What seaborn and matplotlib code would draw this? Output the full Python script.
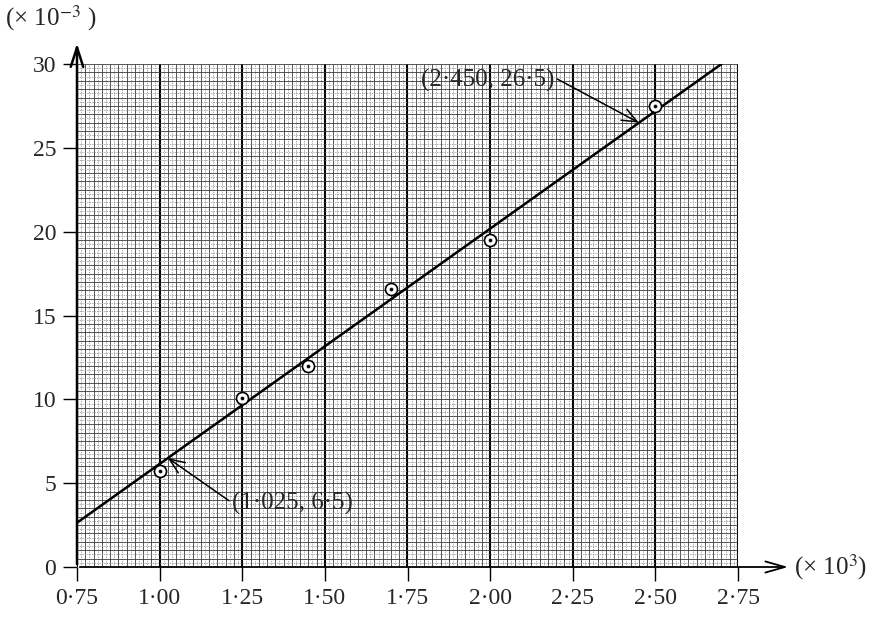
import numpy as np
import seaborn as sns
import matplotlib.pyplot as plt

# measured points (x in 10^3, y in 10^-3)
x_vals = [1.00, 1.25, 1.45, 1.70, 2.00, 2.50]
y_vals = [5.7, 10.1, 12.0, 16.6, 19.5, 27.5]

# best-fit line end points
fit_x = [0.75, 2.70]
fit_y = [2.64, 30.0]

# the two points
pt_hi = (2.450, 26.5)
pt_lo = (1.025, 6.5)

x_ticks = [0.75, 1.00, 1.25, 1.50, 1.75, 2.00, 2.25, 2.50, 2.75]
x_labels = ['0·75', '1·00', '1·25', '1·50', '1·75', '2·00', '2·25', '2·50', '2·75']
y_ticks = [0, 5, 10, 15, 20, 25, 30]
y_labels = ['0', '5', '10', '15', '20', '25', '30']

sns.set_style('white')
plt.rcParams['font.family'] = ['Liberation Serif', 'DejaVu Serif']
plt.rcParams['mathtext.fontset'] = 'stix'

fig = plt.figure(figsize=(8.71, 6.17), dpi=100)
ax = fig.add_axes([77 / 871, 50 / 617, 661 / 871, 503 / 617])
ax.set_xlim(0.75, 2.75)
ax.set_ylim(0, 30)

# graph paper grid
x0, x1 = 0.75, 2.765
y0, y1 = 0.0, 30.0
for i, gx in enumerate(np.arange(0.75, 2.7651, 0.0125)):
    if i % 20 == 0:
        ax.vlines(gx, y0, y1, color='black', lw=1.5, zorder=1)
    elif i % 2 == 0:
        ax.vlines(gx, y0, y1, color='#3a3a3a', lw=0.6, zorder=1)
    else:
        ax.vlines(gx, y0, y1, color='#8a8a8a', lw=0.5, ls=(0, (2, 1.5)), zorder=1)
for j, gy in enumerate(np.arange(0.25, 30.01, 0.25)):
    if j % 2 == 1:
        ax.hlines(gy, x0, x1, color='#3a3a3a', lw=0.6, zorder=1)
    else:
        ax.hlines(gy, x0, x1, color='#8a8a8a', lw=0.5, ls=(0, (2, 1.5)), zorder=1)

# fitted line and data points
sns.lineplot(x=fit_x, y=fit_y, ax=ax, color='black', lw=1.8, zorder=3)
sns.scatterplot(x=x_vals, y=y_vals, ax=ax, s=75, marker='o', facecolor='white',
                edgecolor='black', linewidth=1.2, zorder=4)
sns.scatterplot(x=x_vals, y=y_vals, ax=ax, s=8, color='black', zorder=5)

# axes with arrows
for s in ax.spines.values():
    s.set_visible(False)
ax.annotate('', xy=(0.75, 31.4), xytext=(0.75, 0), annotation_clip=False,
            arrowprops=dict(arrowstyle='->,head_length=1.4,head_width=0.45', color='black', lw=1.8))
ax.annotate('', xy=(2.91, 0), xytext=(0.75, 0), annotation_clip=False,
            arrowprops=dict(arrowstyle='->,head_length=1.4,head_width=0.4', color='black', lw=1.3))

ax.set_xticks(x_ticks)
ax.set_xticklabels(x_labels)
ax.set_yticks(y_ticks)
ax.set_yticklabels(y_labels)
ax.tick_params(axis='both', direction='out', length=10, width=1.0, color='black',
               labelsize=17, pad=5, bottom=True, left=True)

fig.text(5 / 871, 1 - 18 / 617, r'(× 10$^{-3}$ )', fontsize=18, va='center', ha='left')
ax.text(2.92, 0, r'(× 10$^{3}$)', fontsize=18, va='center', ha='left', clip_on=False)

# annotations of the two points on the line
ax.annotate('(2·450, 26·5)', xy=pt_hi, xytext=(1.79, 29.0), fontsize=18,
            ha='left', va='center', zorder=6,
            arrowprops=dict(arrowstyle='->,head_length=0.6,head_width=0.25', color='black',
                            lw=1.1, relpos=(1.0, 0.65), shrinkA=0, shrinkB=0))
ax.annotate('(1·025, 6·5)', xy=pt_lo, xytext=(1.22, 3.8), fontsize=18,
            ha='left', va='center', zorder=6,
            arrowprops=dict(arrowstyle='->,head_length=0.6,head_width=0.25', color='black',
                            lw=1.1, relpos=(0.03, 0.4), shrinkA=0, shrinkB=0))

plt.savefig('out.png', dpi=100)
